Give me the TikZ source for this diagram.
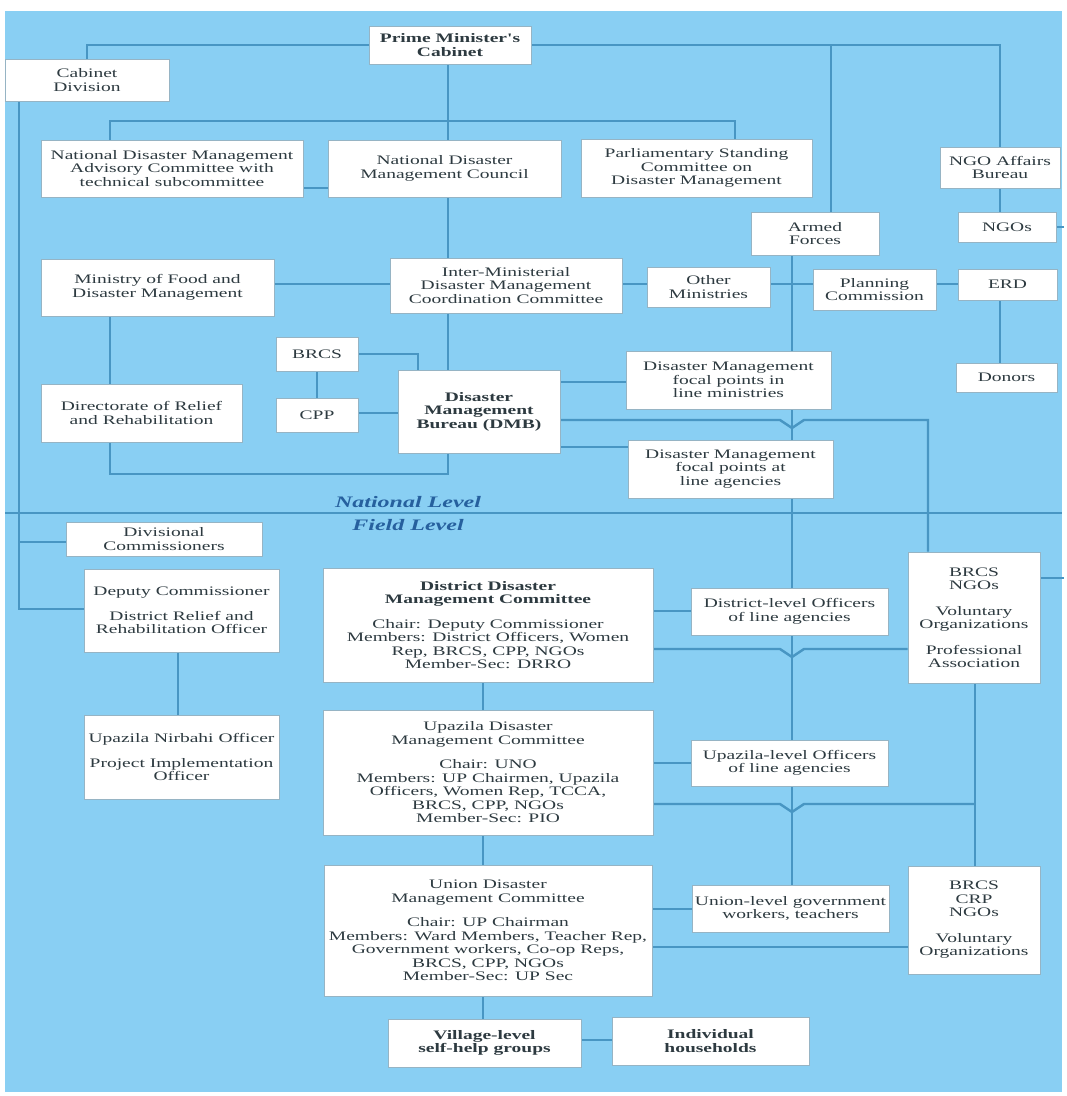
\documentclass[tikz,border=0pt]{standalone}
\usepackage{fontspec}
\setmainfont{Liberation Serif}
\newfontfamily\widefont[FakeStretch=1.5]{Liberation Serif}
\usetikzlibrary{calc}
\pgfdeclarelayer{bg}
\pgfdeclarelayer{wires}
\pgfsetlayers{bg,wires,main}
\definecolor{skyfill}{RGB}{137,207,243}
\definecolor{wire}{RGB}{72,150,195}
\definecolor{boxedge}{RGB}{150,180,196}
\definecolor{ink}{RGB}{45,58,64}
\definecolor{levelink}{RGB}{38,96,158}

\begin{document}
\begin{tikzpicture}[x=1pt,y=-1pt,
  box/.style={draw=boxedge, fill=white, line width=0.9pt, align=center,
    inner sep=1pt, text=ink, font=\widefont\fontsize{13}{13.5}\selectfont},
  wh/.style 2 args={minimum width=#1, minimum height=#2},
  wireline/.style={draw=wire, line width=2.4pt},
  level/.style={text=levelink, font=\widefont\fontsize{16}{16}\selectfont\bfseries\itshape},
  ]
\useasboundingbox (0,0) rectangle (1067,1096);

% ---------- national level ----------
\node[box, wh={162}{38}] (pm) at (450,45) {\bfseries Prime Minister's\\\bfseries Cabinet};
\node[box, wh={164}{42}] (cabdiv) at (87,80) {Cabinet\\Division};
\node[box, wh={262}{57}] (ndmac) at (172,168.5) {National Disaster Management\\Advisory Committee with\\technical subcommittee};
\node[box, wh={233}{57}] (ndmc) at (444.5,168.5) {National Disaster\\Management Council};
\node[box, wh={231}{58}] (psc) at (696.5,168) {Parliamentary Standing\\Committee on\\Disaster Management};
\node[box, wh={120}{41}] (ngoab) at (1000,167.5) {NGO Affairs\\Bureau};
\node[box, wh={128}{43}] (armed) at (815,233.5) {Armed\\Forces};
\node[box, wh={98}{30}] (ngos) at (1007,227) {NGOs};

\node[box, wh={233}{57}] (mofdm) at (157.5,287.5) {Ministry of Food and\\Disaster Management};
\node[box, wh={232}{55}] (imdmcc) at (506,285.5) {Inter-Ministerial\\Disaster Management\\Coordination Committee};
\node[box, wh={123}{40}] (other) at (708.5,287) {Other\\Ministries};
\node[box, wh={123}{41}] (planning) at (874.5,289.5) {Planning\\Commission};
\node[box, wh={99}{31}] (erd) at (1007.5,284.5) {ERD};

\node[box, wh={82}{34}] (brcs1) at (317,354) {BRCS};
\node[box, wh={82}{34}] (cpp) at (317,415) {CPP};
\node[box, wh={201}{58}] (drr) at (141.5,413) {Directorate of Relief\\and Rehabilitation};
\node[box, wh={162}{83}] (dmb) at (479,411.5) {\bfseries Disaster\\\bfseries Management\\\bfseries Bureau (DMB)};
\node[box, wh={205}{58}] (fpmin) at (728.5,380) {Disaster Management\\focal points in\\line ministries};
\node[box, wh={205}{58}] (fpag) at (730.5,469) {Disaster Management\\focal points at\\line agencies};
\node[box, wh={101}{29}] (donors) at (1006.5,377.5) {Donors};

% ---------- level labels ----------
\node[level] (natl) at (408,502) {National Level};
\node[level] (field) at (408,525) {Field Level};

% ---------- field level ----------
\node[box, wh={196}{34}] (divcom) at (164,539) {Divisional\\Commissioners};
\node[box, wh={195}{83}] (dc) at (181.5,610.5) {Deputy Commissioner\\[11pt]District Relief and\\Rehabilitation Officer};
\node[box, wh={195}{84}] (uno) at (181.5,757) {Upazila Nirbahi Officer\\[11pt]Project Implementation\\Officer};
\node[box, wh={330}{114}] (ddmc) at (488,625) {\bfseries District Disaster\\\bfseries Management Committee\\[11pt]Chair: Deputy Commissioner\\Members: District Officers, Women\\Rep, BRCS, CPP, NGOs\\Member-Sec: DRRO};
\node[box, wh={330}{125}] (udmc) at (488,772.5) {Upazila Disaster\\Management Committee\\[11pt]Chair: UNO\\Members: UP Chairmen, Upazila\\Officers, Women Rep, TCCA,\\BRCS, CPP, NGOs\\Member-Sec: PIO};
\node[box, wh={197}{47}] (dlo) at (789.5,611.5) {District-level Officers\\of line agencies};
\node[box, wh={197}{46}] (ulo) at (789.5,763) {Upazila-level Officers\\of line agencies};
\node[box, wh={132}{131}] (brcsngo) at (974,617.5) {BRCS\\NGOs\\[12pt]Voluntary\\Organizations\\[12pt]Professional\\Association};
\node[box, wh={328}{131}] (undmc) at (488,930.5) {Union Disaster\\Management Committee\\[11pt]Chair: UP Chairman\\Members: Ward Members, Teacher Rep,\\Government workers, Co-op Reps,\\BRCS, CPP, NGOs\\Member-Sec: UP Sec};
\node[box, wh={197}{47}] (unlo) at (790.5,908.5) {Union-level government\\workers, teachers};
\node[box, wh={132}{108}] (brcscrp) at (974,920) {BRCS\\CRP\\NGOs\\[12pt]Voluntary\\Organizations};
\node[box, wh={193}{48}] (village) at (484.5,1043) {\bfseries Village-level\\\bfseries self-help groups};
\node[box, wh={197}{48}] (indiv) at (710.5,1041) {\bfseries Individual\\\bfseries households};

% ---------- background panel ----------
\begin{pgfonlayer}{bg}
  \fill[skyfill] (5,11) rectangle (1062,1092);
\end{pgfonlayer}

% ---------- connectors ----------
\begin{pgfonlayer}{wires}
  % columns and levels used by the connectors
  \coordinate (spine) at (448,0);
  \coordinate (lcol) at (110,0);
  \coordinate (fcol) at (19,0);
  \coordinate (ccol) at (792,0);
  \coordinate (ngocol) at (1000,0);
  \coordinate (ngotap) at (928,0);
  \coordinate (rcol) at (975,0);
  \coordinate (mcol) at (483,0);
  \coordinate (dcol) at (178,0);
  \coordinate (brcstap) at (418,0);
  \coordinate (y188) at (0,188);
  \coordinate (y284) at (0,284);
  \coordinate (y382) at (0,382);
  \coordinate (y412) at (0,413);
  \coordinate (y420) at (0,420);
  \coordinate (y447) at (0,447);
  \coordinate (y542) at (0,542);
  \coordinate (y609) at (0,609);
  \coordinate (y611) at (0,611);
  \coordinate (y649) at (0,649);
  \coordinate (y763) at (0,763);
  \coordinate (y804) at (0,804);
  \coordinate (y909) at (0,909);
  \coordinate (y947) at (0,947);
  \coordinate (y1040) at (0,1040);
  \coordinate (armedtap) at (831,45);
  \coordinate (busL) at (110,121);
  \coordinate (busR) at (735,121);
  \coordinate (dmbfoot) at (110,474);
  \coordinate (edgeA) at (1064,227);
  \coordinate (edgeB) at (1064,578);
  \coordinate (sepL) at (5,513);
  \coordinate (sepR) at (1062,513);

  % level divider
  \draw[wireline, line width=1.8pt] (sepL) -- (sepR);

  % top bus from the Prime Minister's Cabinet
  \draw[wireline] (cabdiv.north) |- (pm.west);
  \draw[wireline] (pm.east) -| (ngoab.north);
  \draw[wireline] (armedtap) -- (armedtap |- armed.north);
  \draw[wireline] (busL |- ndmac.north) -- (busL) -- (busR) -- (busR |- psc.north);
  \draw[wireline] (pm.south -| spine) -- (ndmc.north -| spine);
  \draw[wireline] (ndmc.south -| spine) -- (imdmcc.north -| spine);
  \draw[wireline] (imdmcc.south -| spine) -- (dmb.north -| spine);
  \draw[wireline, line width=1.6pt] (ndmac.east |- y188) -- (ndmc.west |- y188);

  % ministries row
  \draw[wireline] (mofdm.east |- y284) -- (imdmcc.west |- y284);
  \draw[wireline] (imdmcc.east |- y284) -- (other.west |- y284);
  \draw[wireline] (other.east |- y284) -- (planning.west |- y284);
  \draw[wireline] (planning.east |- y284) -- (erd.west |- y284);

  % NGO and donor column
  \draw[wireline] (ngoab.south -| ngocol) -- (ngos.north -| ngocol);
  \draw[wireline] (erd.south -| ngocol) -- (donors.north -| ngocol);
  \draw[wireline] (ngos.east |- edgeA) -- (edgeA);

  % ministry of food, directorate and DMB
  \draw[wireline] (mofdm.south -| lcol) -- (drr.north -| lcol);
  \draw[wireline] (drr.south -| lcol) -- (dmbfoot) -- (dmbfoot -| spine) -- (dmb.south -| spine);
  \draw[wireline] (brcs1.east) -| (dmb.north -| brcstap);
  \draw[wireline] (brcs1.south) -- (cpp.north);
  \draw[wireline] (cpp.east |- y412) -- (dmb.west |- y412);
  \draw[wireline] (dmb.east |- y382) -- (fpmin.west |- y382);
  \draw[wireline] (dmb.east |- y447) -- (fpag.west |- y447);
  \draw[wireline] (dmb.east |- y420) -- (780,420) -- (792,428) -- (804,420)
                  -- (ngotap |- y420) -- (brcsngo.north -| ngotap);

  % central column of line agencies
  \draw[wireline] (armed.south -| ccol) -- (fpmin.north -| ccol);
  \draw[wireline] (fpmin.south -| ccol) -- (fpag.north -| ccol);
  \draw[wireline] (fpag.south -| ccol) -- (dlo.north -| ccol);
  \draw[wireline] (dlo.south -| ccol) -- (ulo.north -| ccol);
  \draw[wireline] (ulo.south -| ccol) -- (unlo.north -| ccol);

  % left column down to the field administration
  \draw[wireline] (cabdiv.south -| fcol) -- (fcol |- y609) -- (dc.west |- y609);
  \draw[wireline] (fcol |- y542) -- (divcom.west |- y542);
  \draw[wireline] (dc.south -| dcol) -- (uno.north -| dcol);

  % committees
  \draw[wireline] (ddmc.south -| mcol) -- (udmc.north -| mcol);
  \draw[wireline] (udmc.south -| mcol) -- (undmc.north -| mcol);
  \draw[wireline] (undmc.south -| mcol) -- (village.north -| mcol);
  \draw[wireline] (village.east |- y1040) -- (indiv.west |- y1040);
  \draw[wireline] (ddmc.east |- y611) -- (dlo.west |- y611);
  \draw[wireline] (ddmc.east |- y649) -- (780,649) -- (792,657) -- (804,649)
                  -- (brcsngo.west |- y649);
  \draw[wireline] (udmc.east |- y763) -- (ulo.west |- y763);
  \draw[wireline] (udmc.east |- y804) -- (780,804) -- (792,812) -- (804,804)
                  -- (rcol |- y804);
  \draw[wireline] (brcsngo.south -| rcol) -- (brcscrp.north -| rcol);
  \draw[wireline] (brcsngo.east |- edgeB) -- (edgeB);
  \draw[wireline] (undmc.east |- y909) -- (unlo.west |- y909);
  \draw[wireline] (undmc.east |- y947) -- (brcscrp.west |- y947);
\end{pgfonlayer}
\end{tikzpicture}
\end{document}
